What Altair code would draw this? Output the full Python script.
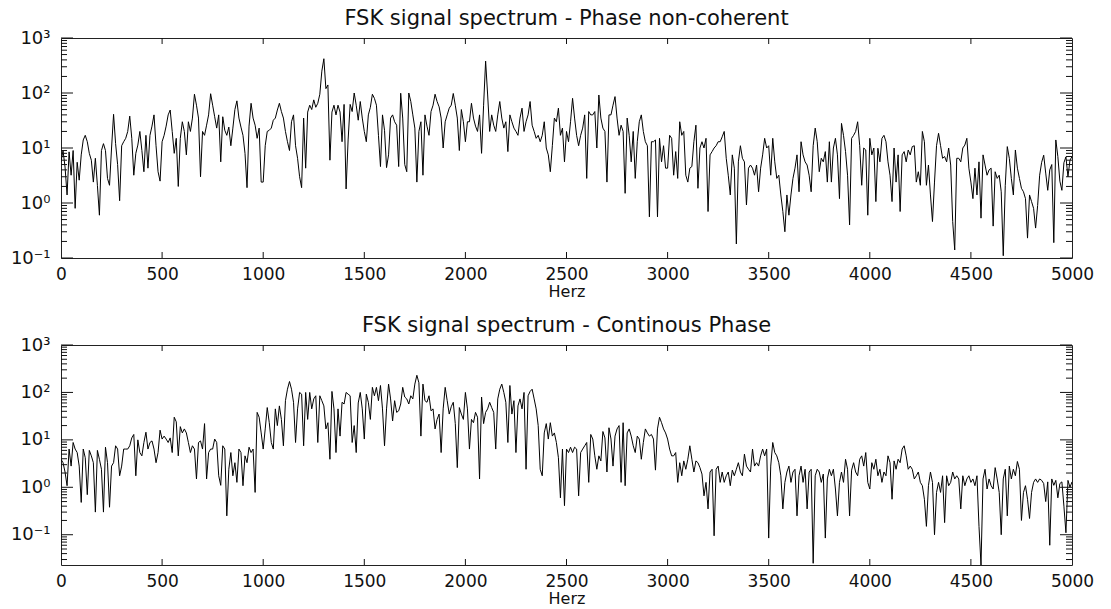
import altair as alt
import pandas as pd

# ---------------- data (10 Hz grid) ----------------
STEP_HZ = 10

# Top panel: FSK spectrum, phase non-coherent
top_0000 = [5.6, 9, 4.5, 1.4, 8.5, 3.2, 9, 0.8, 5.5, 2.6,
            7.5, 14, 17, 13, 8, 6, 2.4, 6.5, 2.1, 0.6,
            9, 12, 9, 2.8, 2.1, 10, 41, 12, 5, 1.1,
            11, 13, 15, 20, 38, 15, 3.2, 8, 11.3, 20,
            9, 3.7, 17, 4.3, 17, 25, 40, 11, 3.7, 2.5,
            13, 17, 25, 40, 49, 20, 8, 15, 2, 15,
            30, 20, 7.5, 30, 20, 35, 95, 60, 35, 3,
            20, 17, 26, 40, 97, 60, 37, 23, 40, 5.6,
            37, 21, 17, 24, 11, 23, 50, 72, 35, 24,
            17, 8, 1.9, 25, 65, 35, 26, 15, 23, 2.4]
top_1000 = [2.4, 11, 20, 21, 23, 32, 35, 49, 65, 46,
            35, 20, 13, 9, 30, 40, 11, 6.5, 3, 1.9,
            35, 4.3, 45, 60, 50, 75, 55, 65, 95, 250,
            420, 120, 140, 6, 45, 60, 40, 60, 45, 13,
            62, 1.8, 14, 62, 46, 100, 60, 32, 70, 35,
            20, 13, 40, 55, 95, 80, 60, 17, 4.6, 40,
            21, 4.4, 7.5, 35, 40, 30, 26, 4.6, 99, 35,
            5, 3.7, 100, 70, 40, 23, 2.4, 20, 30, 3.2,
            40, 25, 17, 46, 60, 95, 70, 56, 35, 10,
            30, 40, 53, 60, 98, 60, 35, 9, 50, 30]
top_2000 = [13, 30, 30, 65, 35, 25, 20, 40, 8, 60,
            380, 92, 20, 40, 26, 20, 40, 70, 35, 23,
            30, 8.6, 40, 30, 23, 20, 17, 35, 53, 20,
            30, 40, 70, 26, 20, 15, 17, 13, 17, 30,
            10, 7.5, 3.7, 11, 35, 30, 53, 17, 23, 5.6,
            20, 13, 30, 80, 35, 17, 11, 17, 23, 40,
            2.8, 46, 40, 40, 46, 10, 92, 35, 23, 20,
            2.4, 40, 40, 60, 86, 35, 17, 26, 20, 1.5,
            35, 17, 5.6, 20, 2.8, 13, 30, 40, 20, 13,
            11, 0.56, 13, 13, 14, 0.56, 15, 5.6, 11, 4.3]
top_3000 = [4.3, 17, 15, 3.2, 8.6, 2.8, 30, 17, 20, 3.2,
            2.4, 4.3, 4.6, 13, 26, 1.85, 10, 13, 10, 15,
            0.7, 7.5, 8.6, 10, 11, 13, 13, 16, 20, 6.5,
            3.2, 1.4, 7.5, 4.3, 0.18, 5.6, 11, 6.5, 5.6, 0.92,
            4.3, 4.9, 4.3, 3.2, 4.9, 1.6, 4.3, 7.5, 15, 10,
            11, 3.2, 15, 5.6, 2.8, 3.2, 1.4, 0.7, 0.3, 1.4,
            0.6, 1.4, 2.8, 4.3, 7.5, 1.6, 13, 7.5, 5.6, 4.9,
            3.2, 1.6, 11, 23, 13, 3.7, 6.5, 5.6, 8.6, 2.4,
            13, 2.4, 10, 15, 7.5, 1.2, 28, 17, 8.6, 3.2,
            0.4, 15, 17, 20, 30, 11, 2.1, 10, 9.2, 0.6]
top_4000 = [15, 7.5, 10, 1.06, 9.9, 5.6, 15, 17, 13, 5.6,
            3.2, 1.06, 10, 2.4, 7.5, 0.7, 7.5, 8.6, 5.6, 9.2,
            7.5, 10.6, 11, 2.4, 3.7, 2.1, 20, 13, 2.1, 4.9,
            1.4, 0.46, 2.4, 11, 18.5, 11, 6.5, 7, 5.6, 10,
            4.9, 0.46, 0.14, 6.5, 6.5, 5.6, 10, 11.3, 15, 4.3,
            2.4, 1.2, 4.3, 1.4, 5.6, 0.53, 7.5, 4.9, 3.2, 4.0,
            4.3, 0.38, 3.7, 2.8, 3.2, 1.6, 0.11, 2.1, 10.6, 6.5,
            2.8, 1.4, 9.2, 4.3, 2.8, 1.85, 1.6, 1.2, 0.23, 1.4,
            1.06, 0.8, 0.35, 0.9, 3.2, 5.5, 7.4, 3.5, 1.7, 4.0,
            5.0, 0.19, 14, 7, 2.5, 1.7, 5.4, 6.9, 3.0, 6.0,
            7]

# Bottom panel: FSK spectrum, continuous phase
bot_0000 = [3.9, 3.3, 2.1, 1.08, 6.4, 2.8, 8.8, 6.4, 5.4, 2.8,
            0.48, 6.4, 4.2, 0.7, 6, 4.6, 3.3, 0.3, 6, 3.9,
            2.4, 0.3, 7, 3.3, 0.38, 2.8, 3.3, 7.5, 6.4, 1.75,
            2.8, 6.4, 6.4, 6.4, 7.5, 11, 13, 1.75, 10, 5.4,
            4.6, 8.8, 14.5, 6.4, 8.8, 9.5, 6.4, 3.3, 5.4, 16,
            10.4, 12, 10.4, 8.8, 11, 5.4, 30, 24, 4.6, 19,
            14, 17, 14, 8.8, 5.4, 7.5, 6.4, 1.5, 8.8, 9.5,
            6.4, 22, 1.5, 5.4, 6.4, 6.4, 10.4, 8.8, 1.75, 1.1,
            7.5, 6.4, 0.25, 2.4, 5.4, 1.75, 3.3, 1.27, 6.4, 5.4,
            1.08, 4.6, 3.3, 7, 5.4, 6.4, 0.78, 38, 30, 14]
bot_1000 = [6.4, 17, 48, 23, 8.8, 6.4, 45, 20, 52, 27,
            7.5, 67, 117, 170, 117, 62, 8.8, 45, 100, 92,
            7.5, 100, 27, 100, 45, 73, 85, 8.8, 85, 67,
            52, 17, 23, 3.9, 105, 45, 5.4, 45, 12, 62,
            57, 100, 92, 85, 8.8, 20, 5.4, 60, 100, 45,
            10.4, 92, 62, 27, 128, 85, 128, 67, 140, 45,
            7.5, 45, 150, 73, 25, 67, 38, 41, 57, 128,
            80, 73, 57, 85, 73, 150, 230, 160, 12, 150,
            67, 62, 85, 41, 45, 17, 27, 35, 5.4, 45,
            128, 67, 35, 50, 62, 22, 2.6, 48, 35, 27]
bot_2000 = [100, 45, 6.4, 27, 23, 38, 30, 1.5, 80, 22,
            38, 45, 62, 48, 38, 6.4, 73, 117, 150, 100,
            62, 8.8, 140, 35, 67, 5.4, 52, 73, 45, 100,
            2.4, 85, 105, 117, 73, 45, 20, 2.4, 1.75, 14,
            22, 10.4, 23, 12, 14, 8.8, 4.2, 0.6, 6.4, 0.41,
            6.4, 5.4, 7, 5.4, 7, 6.4, 0.66, 5.4, 6.4, 7.5,
            8.8, 1.27, 13, 10.4, 4.6, 2.4, 4.6, 3.6, 15, 11,
            2.1, 18, 10.4, 2.8, 12, 17, 20, 1.27, 23, 1.08,
            14, 17, 12, 7.5, 5.4, 12, 10.4, 3.9, 8.8, 17,
            14, 12, 13, 10.4, 2.3, 17, 30, 23, 17, 14]
bot_3000 = [10.4, 6.4, 4.6, 4.6, 5.4, 1.27, 3.3, 1.75, 3.6, 2.4,
            3.9, 7.5, 3.9, 2.1, 3.6, 3.3, 2.6, 1.9, 0.66, 1.27,
            0.35, 2.1, 2.4, 0.095, 2.4, 2.8, 1.27, 2.1, 1.27, 1.75,
            2.1, 1.08, 2.3, 1.75, 2.4, 3.3, 2.1, 1.75, 5, 2.8,
            2.4, 2.1, 6.4, 2.8, 3.3, 2.8, 4.6, 6.4, 4.6, 6.4,
            0.085, 2.8, 8.8, 5.4, 4.6, 3.3, 1.75, 0.35, 1.27, 2.1,
            2.8, 1.27, 2.1, 2.4, 0.25, 1.75, 2.8, 1.27, 2.4, 0.35,
            2.1, 2.4, 0.025, 1.75, 2.4, 2.1, 1.27, 1.9, 0.085, 1.5,
            2.4, 1.75, 2.4, 0.92, 0.25, 1.27, 2.1, 1.27, 3.9, 2.4,
            0.25, 2.3, 3.3, 2.1, 1.75, 3.9, 4.6, 2.8, 5.4, 1.27]
bot_4000 = [0.92, 3.3, 2.4, 3.9, 1.75, 2.4, 1.27, 2.1, 1.75, 4.6,
            3.3, 0.56, 3.6, 2.4, 3.9, 3.3, 6.4, 7.5, 4.6, 2.4,
            2.8, 2.4, 1.5, 1.75, 2.1, 1.27, 1.08, 0.56, 0.15, 1.08,
            2.1, 1.27, 0.1, 0.78, 1.27, 0.78, 1.75, 0.18, 1.75, 1.08,
            1.27, 2.1, 1.5, 1.75, 1.5, 0.35, 1.75, 1.08, 1.5, 1.75,
            1.27, 1.5, 1.08, 1.75, 0.15, 0.023, 1.5, 2.4, 0.92, 1.5,
            1.08, 0.92, 2.6, 1.5, 0.78, 0.1, 1.5, 2.4, 0.25, 2.8,
            1.5, 2.4, 1.75, 3.5, 2.4, 0.2, 0.78, 1.08, 0.56, 0.22,
            0.78, 1.27, 1.5, 1.27, 1.5, 1.4, 1.2, 0.5, 1.3, 0.06,
            1.5, 1.1, 1.4, 0.6, 1.2, 1.3, 0.4, 0.11, 1.4, 1.0,
            1.3]

top_mag = top_0000 + top_1000 + top_2000 + top_3000 + top_4000
bot_mag = bot_0000 + bot_1000 + bot_2000 + bot_3000 + bot_4000

x_ticks = [0, 500, 1000, 1500, 2000, 2500, 3000, 3500, 4000, 4500, 5000]
decades = [0.1, 1, 10, 100, 1000]
top_title = "FSK signal spectrum - Phase non-coherent"
bot_title = "FSK signal spectrum - Continous Phase"
x_title = "Herz"

# ---------------- styling ----------------
W, H = 1011, 220
FONT = "DejaVu Sans"
INK = "#111111"
LABEL_EXPR = ("datum.value >= 999 ? '10\u00b3' : datum.value >= 99 ? '10\u00b2' : "
              "datum.value >= 9 ? '10\u00b9' : datum.value >= 0.9 ? '10\u2070' : "
              "datum.value >= 0.09 ? '10\u207b\u00b9' : ''")


def panel(mag, title, ymin):
    df = pd.DataFrame({"f": [i * STEP_HZ for i in range(len(mag))], "m": mag})
    xs = alt.Scale(domain=[0, 5000], nice=False, zero=False)
    ys = alt.Scale(type="log", domain=[ymin, 1000], nice=False)

    majors = [d for d in decades if d >= ymin]
    minors = []
    for d in [0.01, 0.1, 1, 10, 100]:
        for k in range(2, 10):
            v = round(d * k, 4)
            if ymin <= v <= 1000:
                minors.append(v)

    xaxis = alt.Axis(values=x_ticks, format="d", title=x_title, ticks=False,
                     domain=False, grid=False, labelPadding=8, titlePadding=1,
                     labelFlush=False, labelOverlap=False,
                     labelFontSize=17, titleFontSize=16)
    yaxis = alt.Axis(values=majors, labelExpr=LABEL_EXPR, title=None, ticks=False,
                     domain=False, grid=False, labelPadding=11, labelFlush=False,
                     labelOverlap=False, labelFontSize=18)

    line = alt.Chart(df).mark_line(color="black", strokeWidth=1.0, clip=True).encode(
        x=alt.X("f:Q", scale=xs, axis=xaxis),
        y=alt.Y("m:Q", scale=ys, axis=yaxis),
    )

    xt_df = pd.DataFrame({"f": x_ticks[1:-1]})
    xt_bottom = alt.Chart(xt_df).mark_rule(color=INK, strokeWidth=1).encode(
        x=alt.X("f:Q", scale=xs, axis=xaxis), y=alt.value(H), y2=alt.value(H - 6))
    xt_top = alt.Chart(xt_df).mark_rule(color=INK, strokeWidth=1).encode(
        x=alt.X("f:Q", scale=xs, axis=xaxis), y=alt.value(0), y2=alt.value(6))

    maj_df = pd.DataFrame({"m": majors})
    min_df = pd.DataFrame({"m": minors})
    layers = [line, xt_bottom, xt_top]
    for data, ln in [(maj_df, 12), (min_df, 6)]:
        layers.append(alt.Chart(data).mark_rule(color=INK, strokeWidth=1).encode(
            y=alt.Y("m:Q", scale=ys, axis=yaxis), x=alt.value(0), x2=alt.value(ln)))
        layers.append(alt.Chart(data).mark_rule(color=INK, strokeWidth=1).encode(
            y=alt.Y("m:Q", scale=ys, axis=yaxis), x=alt.value(W), x2=alt.value(W - ln)))

    return alt.layer(*layers).properties(
        width=W, height=H,
        title=alt.TitleParams(title, frame="group", anchor="middle", offset=0),
    )


chart = alt.vconcat(
    panel(top_mag, top_title, 0.1),
    panel(bot_mag, bot_title, 0.023),
    spacing=14,
).properties(
    padding={"left": 9, "top": 7, "right": 5, "bottom": 0},
    background="white",
).configure_view(
    stroke="#222222", strokeWidth=1
).configure_axis(
    labelFont=FONT, titleFont=FONT,
    titleFontWeight="normal", labelColor=INK, titleColor=INK,
).configure_title(
    font=FONT, fontSize=21, fontWeight="normal", color=INK,
)

chart.save("out.html", embed_options={"renderer": "svg", "actions": False})
